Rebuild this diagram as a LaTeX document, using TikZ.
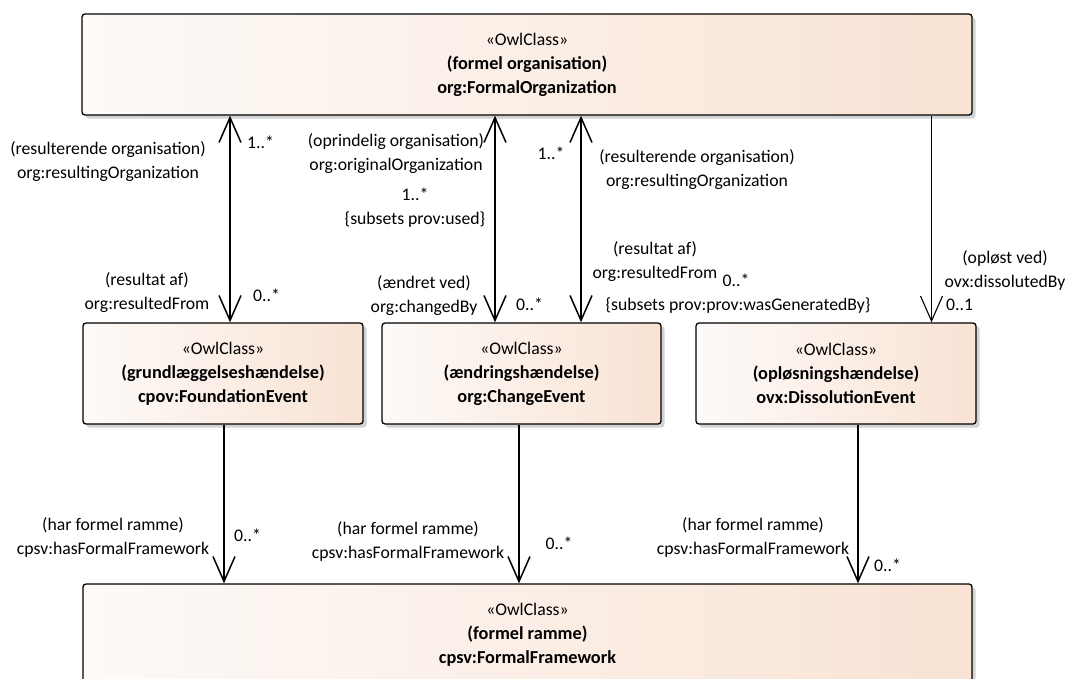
\documentclass[tikz,border=0pt]{standalone}
\usepackage{fontspec}
\setmainfont{Carlito}
\usetikzlibrary{arrows.meta,shadows}
\definecolor{boxL}{RGB}{253,250,248}
\definecolor{boxR}{RGB}{248,227,212}
\newcommand{\bt}[1]{{\fontsize{18.3}{24}\selectfont\bfseries #1}}
\begin{document}
\begin{tikzpicture}[x=1pt,y=-1pt,
  every node/.style={font=\fontsize{17.7}{24}\selectfont},
  cls/.style={draw=black, line width=1.3pt, rounded corners=3pt,
    left color=boxL, right color=boxR, align=center, inner sep=0pt,
    minimum height=101pt,
    drop shadow={shadow xshift=3.5pt, shadow yshift=-3.5pt, fill=black!22, opacity=0.8}},
  lbl/.style={inner sep=0pt, align=center},
  assoc/.style={line width=1.5pt},
  thinassoc/.style={line width=1.1pt},
  >={Straight Barb[length=25pt,width=22pt]}]
\useasboundingbox (0,0) rectangle (1069,678);
\clip (0,0) rectangle (1069,678);

% classes
\node[cls, minimum width=890pt] (org) at (527,64.5)
  {«OwlClass»\\\bt{(formel organisation)}\\\bt{org:FormalOrganization}};
\node[cls, minimum width=280pt] (fe) at (223,373.5)
  {«OwlClass»\\\bt{(grundlæggelseshændelse)}\\\bt{cpov:FoundationEvent}};
\node[cls, minimum width=279pt] (ce) at (521.5,373.5)
  {«OwlClass»\\\bt{(ændringshændelse)}\\\bt{org:ChangeEvent}};
\node[cls, minimum width=280pt] (de) at (836,373.5)
  {«OwlClass»\\\bt{(opløsningshændelse)}\\\bt{ovx:DissolutionEvent}};
\node[cls, minimum width=889pt] (ff) at (527.5,634.5)
  {«OwlClass»\\\bt{(formel ramme)}\\\bt{cpsv:FormalFramework}};

% connector x positions
\coordinate (xa1) at (230,0);
\coordinate (xa2) at (495,0);
\coordinate (xa3) at (581,0);
\coordinate (xa4) at (931.5,0);
\coordinate (xb1) at (224,0);
\coordinate (xb2) at (519,0);
\coordinate (xb3) at (858,0);

% connectors
\draw[assoc,<->] (org.south -| xa1) -- (fe.north -| xa1);
\draw[assoc,<->] (org.south -| xa2) -- (ce.north -| xa2);
\draw[assoc,<->] (org.south -| xa3) -- (ce.north -| xa3);
\draw[thinassoc,->] (org.south -| xa4) -- (de.north -| xa4);
\draw[assoc,->] (fe.south -| xb1) -- (ff.north -| xb1);
\draw[assoc,->] (ce.south -| xb2) -- (ff.north -| xb2);
\draw[assoc,->] (de.south -| xb3) -- (ff.north -| xb3);

% labels
\node[lbl] (l1) at (108,161.5) {(resulterende organisation)\\org:resultingOrganization};
\node[lbl, anchor=west] (m1) at (247,142) {1..*};
\node[lbl] (l2) at (396,153.5) {(oprindelig organisation)\\org:originalOrganization};
\node[lbl] (l3) at (415,207.5) {1..*\\\{subsets prov:used\}};
\node[lbl] (m2) at (551,153) {1..*};
\node[lbl] (l4) at (697,170) {(resulterende organisation)\\org:resultingOrganization};
\node[lbl] (l5) at (147,292.5) {(resultat af)\\org:resultedFrom};
\node[lbl, anchor=west] (m3) at (253,295) {0..*};
\node[lbl] (l6) at (424,295.5) {(ændret ved)\\org:changedBy};
\node[lbl, anchor=west] (m4) at (516,304) {0..*};
\node[lbl] (l7) at (655,262) {(resultat af)\\org:resultedFrom};
\node[lbl, anchor=west] (m5) at (722.5,280) {0..*};
\node[lbl] (l8) at (738,306) {\{subsets prov:prov:wasGeneratedBy\}};
\node[lbl] (l9) at (1005,270.5) {(opløst ved)\\ovx:dissolutedBy};
\node[lbl, anchor=west] (m6) at (946,305) {0..1};
\node[lbl] (l10) at (113,537.5) {(har formel ramme)\\cpsv:hasFormalFramework};
\node[lbl, anchor=west] (m7) at (234,535) {0..*};
\node[lbl] (l11) at (408,541) {(har formel ramme)\\cpsv:hasFormalFramework};
\node[lbl, anchor=west] (m8) at (545.5,543) {0..*};
\node[lbl] (l12) at (753,537.5) {(har formel ramme)\\cpsv:hasFormalFramework};
\node[lbl, anchor=west] (m9) at (874,565) {0..*};
\end{tikzpicture}
\end{document}
